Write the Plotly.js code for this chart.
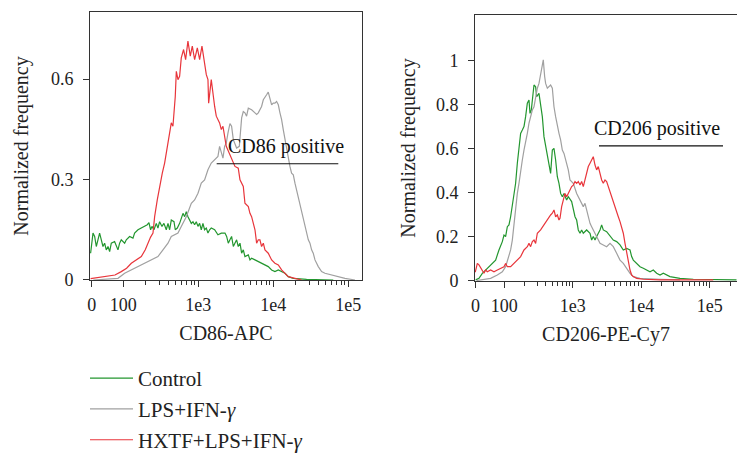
<!DOCTYPE html>
<html>
<head>
<meta charset="utf-8">
<script src="https://cdn.plot.ly/plotly-3.0.1.min.js"></script>
<style>html,body{margin:0;padding:0;background:#fff;}#chart{width:737px;height:453px;}</style>
</head>
<body>
<div id="chart"></div>
<script>
// x values are positions on the biexponential display scale, in decades (100 -> 2, 1e3 -> 3 ...)
var ZERO_POS = 1.58; // display position of fluorescence 0
var xTickVals = [ZERO_POS, 2, 3, 4, 5];
var xTickText = ['0', '100', '1e3', '1e4', '1e5'];
var seriesNames = ['Control', 'LPS+IFN-<i>γ</i>', 'HXTF+LPS+IFN-<i>γ</i>'];

// ---- CD86-APC panel ----
var cd86ControlX = [1.564,1.596,1.618,1.640,1.662,1.684,1.707,1.729,1.751,1.773,1.796,1.818,1.840,1.884,1.929,1.951,1.973,2.018,2.040,2.084,2.129,2.151,2.196,2.240,2.284,2.320,2.342,2.364,2.382,2.409,2.440,2.462,2.484,2.516,2.542,2.573,2.596,2.618,2.640,2.676,2.693,2.720,2.751,2.773,2.796,2.818,2.840,2.862,2.884,2.907,2.929,2.951,2.973,2.996,3.018,3.040,3.062,3.084,3.107,3.129,3.151,3.173,3.218,3.262,3.307,3.356,3.378,3.400,3.422,3.444,3.467,3.489,3.511,3.533,3.556,3.578,3.600,3.622,3.667,3.689,3.711,3.756,3.800,3.844,3.889,3.933,3.978,4.022,4.067,4.111,4.156,4.200,4.267,4.444,4.800];
var cd86ControlY = [0.080,0.140,0.130,0.100,0.120,0.140,0.120,0.100,0.110,0.090,0.100,0.085,0.110,0.115,0.090,0.110,0.120,0.110,0.120,0.130,0.125,0.140,0.150,0.155,0.160,0.165,0.171,0.150,0.160,0.150,0.169,0.155,0.174,0.160,0.169,0.150,0.169,0.150,0.179,0.174,0.150,0.155,0.169,0.184,0.199,0.189,0.204,0.189,0.179,0.169,0.174,0.165,0.174,0.160,0.169,0.150,0.169,0.150,0.155,0.140,0.150,0.155,0.150,0.135,0.140,0.140,0.130,0.110,0.120,0.130,0.100,0.110,0.120,0.100,0.110,0.080,0.090,0.070,0.075,0.060,0.065,0.060,0.055,0.050,0.045,0.040,0.030,0.025,0.030,0.025,0.020,0.010,0.005,0.002,0.0];

var cd86LpsX = [1.600,1.929,2.018,2.107,2.196,2.284,2.373,2.462,2.529,2.596,2.640,2.684,2.729,2.773,2.840,2.907,2.951,2.996,3.040,3.084,3.129,3.173,3.218,3.262,3.284,3.307,3.329,3.351,3.373,3.396,3.422,3.444,3.467,3.511,3.547,3.578,3.600,3.622,3.644,3.667,3.711,3.756,3.778,3.800,3.822,3.844,3.867,3.889,3.911,3.933,3.956,3.978,4.000,4.022,4.044,4.067,4.089,4.111,4.133,4.156,4.178,4.200,4.222,4.244,4.267,4.289,4.311,4.333,4.356,4.378,4.400,4.422,4.444,4.467,4.489,4.511,4.533,4.556,4.600,4.644,4.689,4.778,4.867,4.956,5.089];
var cd86LpsY = [0.0,0.005,0.020,0.030,0.040,0.050,0.060,0.070,0.090,0.110,0.130,0.135,0.140,0.160,0.189,0.229,0.239,0.259,0.289,0.299,0.329,0.349,0.359,0.369,0.399,0.379,0.364,0.399,0.409,0.439,0.467,0.459,0.419,0.394,0.399,0.484,0.503,0.499,0.489,0.513,0.508,0.499,0.494,0.499,0.508,0.518,0.538,0.548,0.553,0.561,0.543,0.523,0.528,0.528,0.533,0.523,0.499,0.479,0.449,0.419,0.389,0.359,0.339,0.319,0.314,0.289,0.269,0.249,0.229,0.209,0.189,0.160,0.140,0.120,0.110,0.090,0.080,0.060,0.040,0.025,0.020,0.015,0.010,0.005,0.0];

var cd86HxtfX = [1.564,1.689,1.796,1.889,1.973,2.044,2.107,2.178,2.240,2.293,2.329,2.364,2.396,2.418,2.453,2.484,2.520,2.551,2.578,2.596,2.622,2.640,2.662,2.693,2.707,2.729,2.751,2.773,2.804,2.831,2.862,2.893,2.920,2.951,2.987,3.018,3.049,3.076,3.107,3.129,3.138,3.173,3.196,3.218,3.240,3.284,3.307,3.329,3.373,3.444,3.489,3.533,3.556,3.600,3.622,3.667,3.689,3.711,3.733,3.756,3.778,3.800,3.822,3.844,3.867,3.889,3.933,3.978,4.022,4.067,4.111,4.156,4.200,4.289,4.378];
var cd86HxtfY = [0.004,0.008,0.010,0.015,0.025,0.035,0.050,0.060,0.070,0.090,0.110,0.128,0.140,0.189,0.239,0.279,0.319,0.349,0.384,0.419,0.454,0.469,0.459,0.548,0.623,0.598,0.608,0.663,0.688,0.658,0.713,0.668,0.698,0.658,0.693,0.658,0.698,0.653,0.613,0.598,0.528,0.598,0.548,0.518,0.489,0.469,0.449,0.459,0.399,0.359,0.339,0.334,0.299,0.279,0.229,0.219,0.199,0.189,0.169,0.150,0.110,0.120,0.120,0.100,0.110,0.090,0.080,0.060,0.050,0.045,0.030,0.020,0.010,0.005,0.0];

// ---- CD206-PE-Cy7 panel ----
var cd206ControlX = [1.582,1.630,1.679,1.727,1.776,1.825,1.873,1.922,1.971,1.995,2.019,2.044,2.068,2.092,2.117,2.141,2.165,2.190,2.214,2.238,2.263,2.287,2.311,2.336,2.360,2.375,2.394,2.409,2.433,2.457,2.472,2.506,2.530,2.555,2.579,2.603,2.628,2.652,2.676,2.701,2.725,2.749,2.774,2.798,2.822,2.847,2.871,2.910,2.934,2.983,3.007,3.032,3.056,3.080,3.105,3.129,3.153,3.202,3.251,3.275,3.299,3.324,3.348,3.397,3.421,3.445,3.494,3.543,3.591,3.640,3.689,3.737,3.786,3.835,3.859,3.883,3.932,3.981,4.029,4.078,4.127,4.175,4.224,4.273,4.321,4.418,4.564,4.759,5.148,5.390];
var cd206ControlY = [0.005,0.012,0.035,0.050,0.065,0.080,0.095,0.141,0.179,0.209,0.202,0.247,0.255,0.292,0.338,0.398,0.444,0.535,0.611,0.671,0.686,0.702,0.747,0.808,0.823,0.762,0.777,0.823,0.891,0.883,0.838,0.853,0.792,0.747,0.656,0.611,0.580,0.535,0.489,0.595,0.603,0.550,0.474,0.444,0.398,0.383,0.398,0.368,0.383,0.361,0.323,0.292,0.277,0.232,0.217,0.232,0.217,0.232,0.217,0.186,0.202,0.186,0.202,0.232,0.255,0.232,0.224,0.202,0.186,0.179,0.164,0.141,0.148,0.141,0.111,0.095,0.080,0.065,0.058,0.050,0.042,0.050,0.035,0.027,0.035,0.020,0.012,0.008,0.008,0.005];

var cd206LpsX = [1.596,1.800,1.898,1.971,2.019,2.068,2.092,2.117,2.141,2.165,2.190,2.214,2.238,2.263,2.287,2.311,2.336,2.360,2.384,2.409,2.433,2.457,2.482,2.506,2.530,2.555,2.569,2.589,2.603,2.628,2.652,2.676,2.701,2.725,2.749,2.774,2.798,2.822,2.847,2.871,2.895,2.934,2.959,3.007,3.056,3.105,3.153,3.178,3.202,3.226,3.251,3.275,3.299,3.348,3.397,3.445,3.494,3.543,3.591,3.640,3.689,3.737,3.786,3.835,3.883,3.981,4.273,4.564];
var cd206LpsY = [0.002,0.012,0.027,0.042,0.065,0.111,0.141,0.186,0.262,0.323,0.398,0.444,0.505,0.550,0.595,0.626,0.671,0.717,0.747,0.777,0.792,0.838,0.876,0.898,0.944,0.997,1.005,0.929,0.898,0.876,0.883,0.891,0.876,0.792,0.747,0.702,0.671,0.641,0.595,0.580,0.550,0.505,0.459,0.444,0.398,0.368,0.338,0.353,0.323,0.292,0.262,0.247,0.232,0.202,0.171,0.164,0.156,0.171,0.156,0.126,0.095,0.080,0.058,0.035,0.020,0.012,0.008,0.005];

var cd206HxtfX = [1.576,1.606,1.630,1.655,1.679,1.703,1.727,1.752,1.800,1.849,1.898,1.946,1.995,2.019,2.044,2.092,2.141,2.190,2.238,2.287,2.336,2.360,2.384,2.409,2.433,2.457,2.482,2.530,2.579,2.628,2.652,2.676,2.701,2.725,2.749,2.774,2.798,2.813,2.837,2.861,2.886,2.910,2.934,2.959,2.983,3.007,3.032,3.056,3.080,3.105,3.129,3.153,3.178,3.202,3.226,3.251,3.275,3.299,3.324,3.348,3.372,3.397,3.421,3.445,3.470,3.494,3.518,3.543,3.567,3.591,3.616,3.640,3.664,3.689,3.713,3.737,3.762,3.786,3.810,3.835,3.859,3.883,3.932,4.029,4.273,5.050];
var cd206HxtfY = [0.040,0.080,0.073,0.058,0.042,0.035,0.050,0.042,0.050,0.042,0.050,0.058,0.065,0.080,0.065,0.065,0.080,0.095,0.111,0.141,0.156,0.171,0.156,0.179,0.186,0.171,0.217,0.232,0.255,0.277,0.292,0.300,0.308,0.323,0.292,0.300,0.277,0.285,0.338,0.376,0.398,0.383,0.398,0.414,0.429,0.436,0.452,0.444,0.452,0.436,0.452,0.429,0.459,0.489,0.520,0.535,0.550,0.565,0.527,0.505,0.520,0.489,0.459,0.444,0.459,0.452,0.429,0.398,0.376,0.353,0.338,0.315,0.292,0.270,0.247,0.217,0.171,0.126,0.080,0.050,0.027,0.020,0.012,0.008,0.005,0.005];

// gates: [from, to, level] in display units / normalized frequency
var cd86Gate = [3.245, 4.867, 0.347];
var cd206Gate = [3.382, 5.193, 0.614];

var colors = ['#23962f', '#a0a0a0', '#e8353b'];
var FONT = 'Liberation Serif';

function minorTicks(maxPos) {
  var v = [];
  for (var n = 2; n <= 5; n++) for (var k = 2; k <= 9; k++) {
    var p = Math.log10(k * Math.pow(10, n));
    if (p < maxPos) v.push(p);
  }
  return v;
}

function trace(x, y, i, ax, show) {
  return {
    x: x, y: y, type: 'scatter', mode: 'lines', name: seriesNames[i],
    xaxis: ax[0], yaxis: ax[1], showlegend: show, legendgroup: 'g' + i,
    line: {color: colors[i], width: 1.2},
    hoverinfo: 'skip'
  };
}

var data = [
  trace(cd86ControlX, cd86ControlY, 0, ['x', 'y'], true),
  trace(cd86LpsX, cd86LpsY, 1, ['x', 'y'], true),
  trace(cd86HxtfX, cd86HxtfY, 2, ['x', 'y'], true),
  trace(cd206ControlX, cd206ControlY, 0, ['x2', 'y2'], false),
  trace(cd206LpsX, cd206LpsY, 1, ['x2', 'y2'], false),
  trace(cd206HxtfX, cd206HxtfY, 2, ['x2', 'y2'], false)
];

function xAxis(domain, range, title, anchor) {
  return {
    domain: domain, range: range, anchor: anchor, automargin: false,
    tickmode: 'array', tickvals: xTickVals, ticktext: xTickText, tickangle: 0,
    ticks: 'outside', ticklen: 6, tickwidth: 1, tickcolor: '#333', ticklabelstandoff: 2,
    minor: {tickmode: 'array', tickvals: minorTicks(range[1]), ticks: 'outside', ticklen: 4, tickwidth: 1, tickcolor: '#333'},
    showline: true, linecolor: '#333', linewidth: 1, mirror: true,
    showgrid: false, zeroline: false,
    tickfont: {family: FONT, size: 18, color: '#222'},
    title: {text: title, font: {family: FONT, size: 20, color: '#222'}, standoff: 12}
  };
}
function yAxis(domain, range, vals, text, anchor, mirror, standoff) {
  return {
    domain: domain, range: range, anchor: anchor, automargin: false,
    tickmode: 'array', tickvals: vals, ticktext: text,
    ticks: 'outside', ticklen: 6, tickwidth: 1, tickcolor: '#333', ticklabelstandoff: 6,
    showline: true, linecolor: '#333', linewidth: 1, mirror: mirror,
    showgrid: false, zeroline: false,
    tickfont: {family: FONT, size: 18, color: '#222'},
    title: {text: 'Normalized frequency', font: {family: FONT, size: 20, color: '#222'}, standoff: standoff}
  };
}

var layout = {
  width: 737, height: 453,
  margin: {l: 0, r: 0, t: 0, b: 0, autoexpand: false},
  paper_bgcolor: '#fff', plot_bgcolor: '#fff',
  font: {family: FONT, color: '#222'},
  xaxis: xAxis([90/737, 362/737], [1.556, 5.183], 'CD86-APC', 'y'),
  yaxis: yAxis([0.3819, 0.9735], [0, 0.80], [0, 0.3, 0.6], ['0', '0.3', '0.6'], 'x', true, 16),
  xaxis2: xAxis([475/737, 1], [1.572, 5.397], 'CD206-PE-Cy7', 'y2'),
  yaxis2: yAxis([0.3797, 0.9669], [0, 1.209], [0, 0.2, 0.4, 0.6, 0.8, 1], ['0', '0.2', '0.4', '0.6', '0.8', '1'], 'x2', false, 14),
  showlegend: true,
  legend: {
    x: 85/737, xanchor: 'left',
    y: (453 - 358)/453, yanchor: 'top',
    orientation: 'v', traceorder: 'grouped', tracegroupgap: 0.5, itemwidth: 43,
    font: {family: FONT, size: 21, color: '#222'},
    bgcolor: 'rgba(0,0,0,0)', borderwidth: 0
  },
  shapes: [
    {type: 'line', xref: 'x', yref: 'y', x0: cd86Gate[0], x1: cd86Gate[1], y0: cd86Gate[2], y1: cd86Gate[2], line: {color: '#111', width: 1.2}},
    {type: 'line', xref: 'x2', yref: 'y2', x0: cd206Gate[0], x1: cd206Gate[1], y0: cd206Gate[2], y1: cd206Gate[2], line: {color: '#111', width: 1.2}}
  ],
  annotations: [
    {xref: 'x', yref: 'y', x: 4.169, y: 0.40, text: 'CD86 positive', showarrow: false, font: {family: FONT, size: 20, color: '#111'}},
    {xref: 'x2', yref: 'y2', x: 4.222, y: 0.691, text: 'CD206 positive', showarrow: false, font: {family: FONT, size: 20, color: '#111'}}
  ]
};

Plotly.newPlot('chart', data, layout, {staticPlot: true, displayModeBar: false});
</script>
</body>
</html>
